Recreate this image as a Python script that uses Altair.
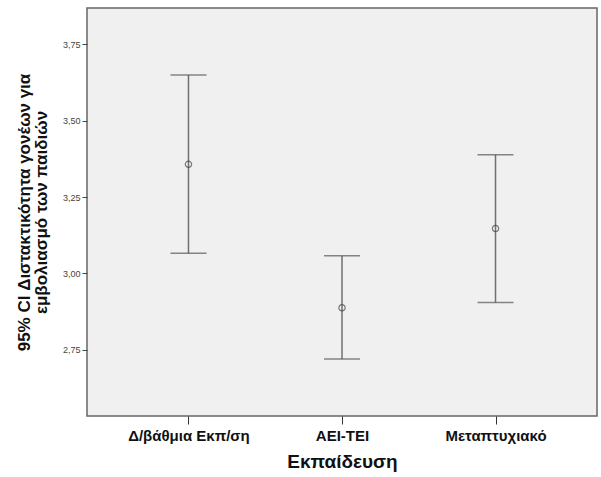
import altair as alt
import pandas as pd

categories = ["Δ/βάθμια Εκπ/ση", "ΑΕΙ-ΤΕΙ", "Μεταπτυχιακό"]
means = [3.357, 2.888, 3.147]
lower = [3.066, 2.720, 2.905]
upper = [3.649, 3.058, 3.388]

df = pd.DataFrame({"cat": categories, "mean": means, "lo": lower, "hi": upper})

FONT = "Liberation Sans"
ydom = [2.534, 3.868]

xscale = alt.Scale(type="point", padding=0.661)
xaxis = alt.Axis(title="Εκπαίδευση", labelAngle=0, labelFont=FONT,
                 labelFontSize=15, labelFontWeight="bold", labelColor="#111",
                 titleFont=FONT, titleFontSize=19, titleFontWeight="bold",
                 titleColor="#111", tickSize=8, tickColor="#333",
                 domain=False, labelPadding=4, titlePadding=9)
yscale = alt.Scale(domain=ydom, nice=False, zero=False)
yaxis = alt.Axis(title=["95% CI Διστακτικότητα γονέων για", "εμβολιασμό των παιδιών"],
                 values=[2.75, 3.0, 3.25, 3.5, 3.75],
                 labelExpr="replace(format(datum.value, '.2f'), '.', ',')",
                 labelFont=FONT, labelFontSize=9, labelColor="#444",
                 tickSize=5, tickColor="#444", grid=False, domain=False,
                 titleFont=FONT, titleFontSize=17, titleFontWeight="bold",
                 titleColor="#111", titlePadding=12, titleLineHeight=17)

def X():
    return alt.X("cat:N", sort=categories, scale=xscale, axis=xaxis)

def Y(field):
    return alt.Y(field, scale=yscale, axis=yaxis)

base = alt.Chart(df)

rule = base.mark_rule(color="#707070", strokeWidth=1.5).encode(
    x=X(), y=Y("lo:Q"), y2="hi:Q",
)
cap_lo = base.mark_tick(color="#555", thickness=1.5, size=36).encode(x=X(), y=Y("lo:Q"))
cap_hi = base.mark_tick(color="#555", thickness=1.5, size=36).encode(x=X(), y=Y("hi:Q"))
pts = base.mark_point(shape="circle", filled=False, color="#444", size=40, strokeWidth=1.2).encode(
    x=X(), y=Y("mean:Q"),
)

chart = alt.layer(rule, cap_lo, cap_hi, pts).properties(
    width=510, height=408,
    autosize=alt.AutoSizeParams(type="none"),
    padding={"left": 87, "top": 8, "right": 4, "bottom": 61},
    background="white",
).configure_view(fill="#F0F0F0", stroke="#666", strokeWidth=1.5)

chart.save("out.html", embed_options={"renderer": "svg", "actions": False})
